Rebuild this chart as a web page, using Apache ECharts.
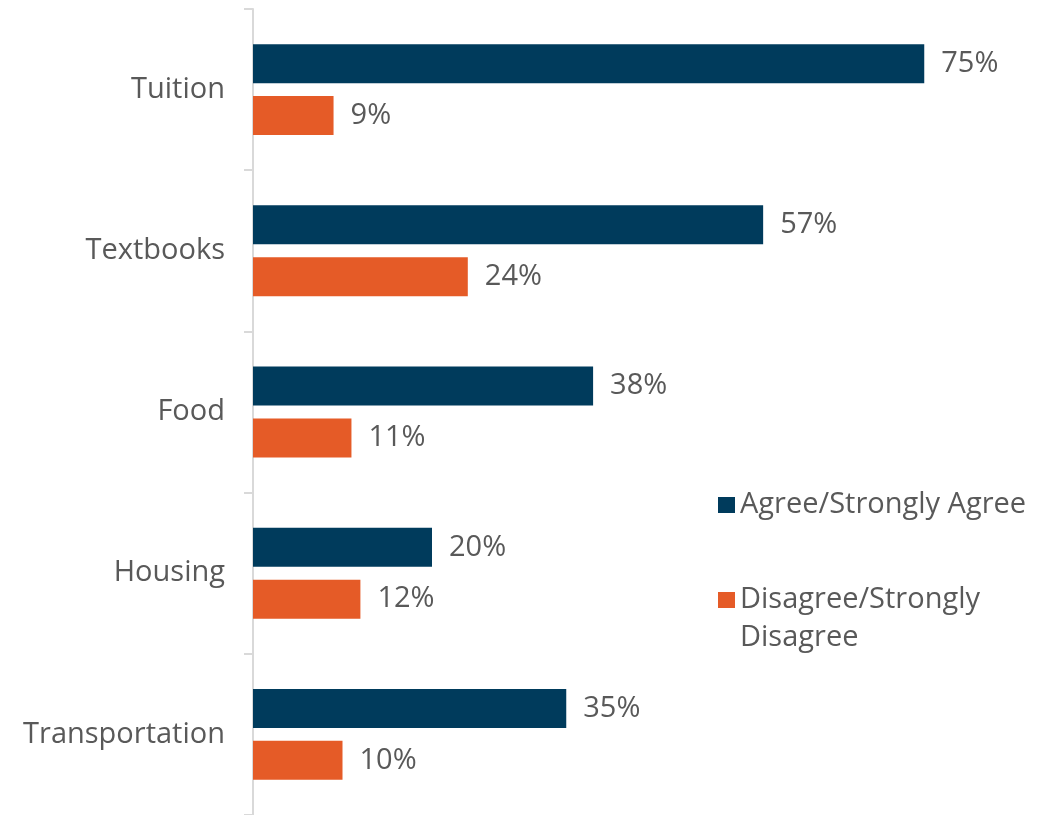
<!DOCTYPE html>
<html>
<head>
<meta charset="utf-8">
<script src="https://cdn.jsdelivr.net/npm/echarts@6/dist/echarts.min.js"></script>
<style>
  html, body { margin: 0; padding: 0; background: #ffffff; }
  #chart { width: 1053px; height: 815px; }
</style>
</head>
<body>
<div id="chart"></div>
<script>
// Cost categories, top to bottom
const categories = ['Tuition', 'Textbooks', 'Food', 'Housing', 'Transportation'];
// Share of respondents (%)
const agreeValues = [75, 57, 38, 20, 35];
const disagreeValues = [9, 24, 11, 12, 10];
const seriesNames = ['Agree/Strongly Agree', 'Disagree/Strongly Disagree'];

const FONT = '"Open Sans", "Noto Sans", sans-serif';
const FONT_SIZE = 29;
const TEXT = '#595959';
const NAVY = '#003b5c';
const ORANGE = '#e55b27';

const chart = echarts.init(document.getElementById('chart'), null, { renderer: 'canvas' });

const valueLabel = {
  show: true,
  position: 'right',
  distance: 17,
  formatter: p => p.value + '%',
  color: TEXT,
  fontFamily: FONT,
  fontSize: FONT_SIZE
};

// Long legend name wraps; the leading blank line keeps the swatch level with the first line
const legendFormatter = name =>
  name === seriesNames[1] ? '\nDisagree/Strongly\nDisagree' : name;

chart.setOption({
  animation: false,
  backgroundColor: '#ffffff',
  grid: { left: 253, right: 84, top: 9, bottom: -2, containLabel: false },
  xAxis: {
    type: 'value',
    min: 0,
    max: 80,
    show: false,
    splitLine: { show: false }
  },
  yAxis: {
    type: 'category',
    data: categories,
    inverse: true,
    axisLine: { show: true, lineStyle: { color: '#d9d9d9', width: 2 } },
    axisTick: { show: true, length: 9, lineStyle: { color: '#d9d9d9', width: 2 } },
    axisLabel: { margin: 28, color: TEXT, fontFamily: FONT, fontSize: FONT_SIZE },
    splitLine: { show: false }
  },
  legend: {
    orient: 'vertical',
    left: 718,
    top: 486,
    padding: 0,
    itemWidth: 17,
    itemHeight: 16,
    itemGap: 19,
    itemTextGap: 12,
    icon: 'rect',
    formatter: legendFormatter,
    textStyle: { color: TEXT, fontFamily: FONT, fontSize: FONT_SIZE, lineHeight: 38 },
    data: seriesNames
  },
  series: [
    {
      name: seriesNames[0],
      type: 'bar',
      data: agreeValues,
      barWidth: 39,
      barGap: '33%',
      itemStyle: { color: NAVY },
      label: valueLabel
    },
    {
      name: seriesNames[1],
      type: 'bar',
      data: disagreeValues,
      barWidth: 39,
      barGap: '33%',
      itemStyle: { color: ORANGE },
      label: valueLabel
    }
  ]
});
</script>
</body>
</html>
